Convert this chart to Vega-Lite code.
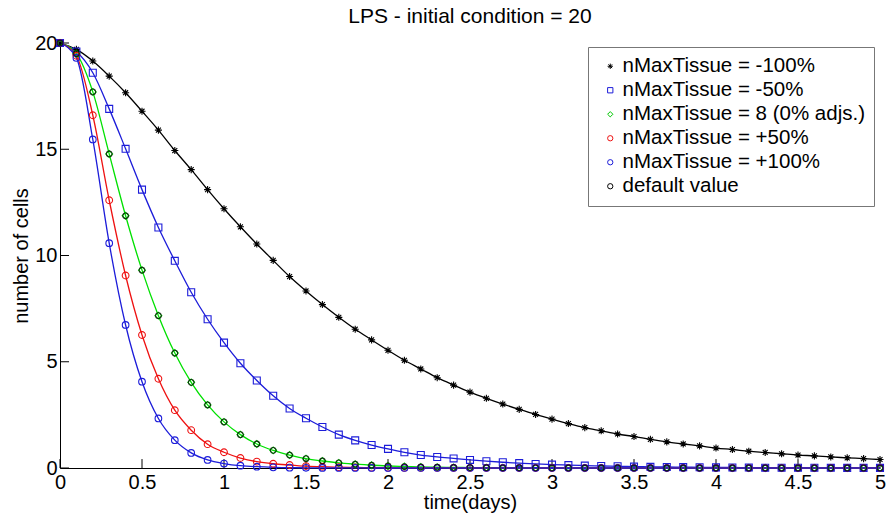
{
  "$schema": "https://vega.github.io/schema/vega-lite/v6.json",
  "width": 820,
  "height": 425,
  "autosize": {"type": "none"},
  "padding": {"left": 60, "top": 43, "right": 8, "bottom": 48},
  "background": "white",
  "config": {
    "font": "Liberation Sans",
    "view": {"stroke": null},
    "axis": {
      "grid": false,
      "domainColor": "black",
      "domainWidth": 1,
      "ticks": false,
      "labelColor": "black",
      "labelFontSize": 20,
      "titleColor": "black",
      "titleFontSize": 20,
      "titleFontWeight": "normal"
    }
  },
  "title": {
    "text": "LPS - initial condition = 20",
    "fontSize": 21,
    "fontWeight": "normal",
    "color": "black",
    "offset": 6
  },
  "data": {
    "values": [
      {"t": 0.0, "m100": 20, "m50": 20, "base": 20, "p50": 20, "p100": 20},
      {"t": 0.1, "m100": 19.7, "m50": 19.6, "base": 19.5, "p50": 19.4, "p100": 19.3},
      {"t": 0.2, "m100": 19.15, "m50": 18.6, "base": 17.7, "p50": 16.6, "p100": 15.46},
      {"t": 0.3, "m100": 18.44, "m50": 16.9, "base": 14.78, "p50": 12.6, "p100": 10.58},
      {"t": 0.4, "m100": 17.66, "m50": 15.02, "base": 11.87, "p50": 9.06, "p100": 6.73},
      {"t": 0.5, "m100": 16.79, "m50": 13.1, "base": 9.31, "p50": 6.26, "p100": 4.06},
      {"t": 0.6, "m100": 15.9, "m50": 11.32, "base": 7.17, "p50": 4.2, "p100": 2.33},
      {"t": 0.7, "m100": 14.94, "m50": 9.75, "base": 5.41, "p50": 2.72, "p100": 1.31},
      {"t": 0.8, "m100": 14.04, "m50": 8.27, "base": 4.03, "p50": 1.78, "p100": 0.71},
      {"t": 0.9, "m100": 13.1, "m50": 7.0, "base": 2.97, "p50": 1.12, "p100": 0.38},
      {"t": 1.0, "m100": 12.2, "m50": 5.9, "base": 2.17, "p50": 0.74, "p100": 0.21},
      {"t": 1.1, "m100": 11.35, "m50": 4.93, "base": 1.57, "p50": 0.47, "p100": 0.11},
      {"t": 1.2, "m100": 10.54, "m50": 4.12, "base": 1.13, "p50": 0.3, "p100": 0.06},
      {"t": 1.3, "m100": 9.77, "m50": 3.4, "base": 0.83, "p50": 0.2, "p100": 0.03},
      {"t": 1.4, "m100": 9.01, "m50": 2.8, "base": 0.61, "p50": 0.14, "p100": 0.017},
      {"t": 1.5, "m100": 8.33, "m50": 2.34, "base": 0.44, "p50": 0.09, "p100": 0.009},
      {"t": 1.6, "m100": 7.69, "m50": 1.93, "base": 0.33, "p50": 0.06, "p100": 0.005},
      {"t": 1.7, "m100": 7.09, "m50": 1.57, "base": 0.24, "p50": 0.04, "p100": 0.003},
      {"t": 1.8, "m100": 6.53, "m50": 1.3, "base": 0.18, "p50": 0.026, "p100": 0.002},
      {"t": 1.9, "m100": 6.03, "m50": 1.08, "base": 0.13, "p50": 0.017, "p100": 0.001},
      {"t": 2.0, "m100": 5.54, "m50": 0.9, "base": 0.095, "p50": 0.011, "p100": 0.001},
      {"t": 2.1, "m100": 5.07, "m50": 0.74, "base": 0.07, "p50": 0.007, "p100": 0},
      {"t": 2.2, "m100": 4.66, "m50": 0.61, "base": 0.05, "p50": 0.005, "p100": 0},
      {"t": 2.3, "m100": 4.25, "m50": 0.52, "base": 0.037, "p50": 0.003, "p100": 0},
      {"t": 2.4, "m100": 3.9, "m50": 0.45, "base": 0.027, "p50": 0.002, "p100": 0},
      {"t": 2.5, "m100": 3.57, "m50": 0.38, "base": 0.02, "p50": 0.001, "p100": 0},
      {"t": 2.6, "m100": 3.28, "m50": 0.32, "base": 0.014, "p50": 0.001, "p100": 0},
      {"t": 2.7, "m100": 3.01, "m50": 0.27, "base": 0.01, "p50": 0, "p100": 0},
      {"t": 2.8, "m100": 2.76, "m50": 0.23, "base": 0.008, "p50": 0, "p100": 0},
      {"t": 2.9, "m100": 2.52, "m50": 0.19, "base": 0.006, "p50": 0, "p100": 0},
      {"t": 3.0, "m100": 2.3, "m50": 0.16, "base": 0.004, "p50": 0, "p100": 0},
      {"t": 3.1, "m100": 2.09, "m50": 0.135, "base": 0.003, "p50": 0, "p100": 0},
      {"t": 3.2, "m100": 1.9, "m50": 0.113, "base": 0.002, "p50": 0, "p100": 0},
      {"t": 3.3, "m100": 1.75, "m50": 0.095, "base": 0.002, "p50": 0, "p100": 0},
      {"t": 3.4, "m100": 1.6, "m50": 0.08, "base": 0.001, "p50": 0, "p100": 0},
      {"t": 3.5, "m100": 1.48, "m50": 0.067, "base": 0.001, "p50": 0, "p100": 0},
      {"t": 3.6, "m100": 1.35, "m50": 0.056, "base": 0.001, "p50": 0, "p100": 0},
      {"t": 3.7, "m100": 1.23, "m50": 0.047, "base": 0, "p50": 0, "p100": 0},
      {"t": 3.8, "m100": 1.13, "m50": 0.04, "base": 0, "p50": 0, "p100": 0},
      {"t": 3.9, "m100": 1.04, "m50": 0.033, "base": 0, "p50": 0, "p100": 0},
      {"t": 4.0, "m100": 0.94, "m50": 0.028, "base": 0, "p50": 0, "p100": 0},
      {"t": 4.1, "m100": 0.87, "m50": 0.023, "base": 0, "p50": 0, "p100": 0},
      {"t": 4.2, "m100": 0.79, "m50": 0.02, "base": 0, "p50": 0, "p100": 0},
      {"t": 4.3, "m100": 0.73, "m50": 0.016, "base": 0, "p50": 0, "p100": 0},
      {"t": 4.4, "m100": 0.67, "m50": 0.014, "base": 0, "p50": 0, "p100": 0},
      {"t": 4.5, "m100": 0.61, "m50": 0.012, "base": 0, "p50": 0, "p100": 0},
      {"t": 4.6, "m100": 0.57, "m50": 0.01, "base": 0, "p50": 0, "p100": 0},
      {"t": 4.7, "m100": 0.52, "m50": 0.008, "base": 0, "p50": 0, "p100": 0},
      {"t": 4.8, "m100": 0.48, "m50": 0.007, "base": 0, "p50": 0, "p100": 0},
      {"t": 4.9, "m100": 0.44, "m50": 0.006, "base": 0, "p50": 0, "p100": 0},
      {"t": 5.0, "m100": 0.4, "m50": 0.005, "base": 0, "p50": 0, "p100": 0}
    ]
  },
  "layer": [
    {
      "data": {"values": [{"v": 0}, {"v": 0.5}, {"v": 1}, {"v": 1.5}, {"v": 2}, {"v": 2.5}, {"v": 3}, {"v": 3.5}, {"v": 4}, {"v": 4.5}, {"v": 5}]},
      "mark": {"type": "rule", "color": "black", "strokeWidth": 1},
      "encoding": {
        "x": {"field": "v", "type": "quantitative"},
        "y": {"datum": 0},
        "y2": {"datum": 0.42}
      }
    },
    {
      "data": {"values": [{"v": 0}, {"v": 5}, {"v": 10}, {"v": 15}, {"v": 20}]},
      "mark": {"type": "rule", "color": "black", "strokeWidth": 1},
      "encoding": {
        "y": {"field": "v", "type": "quantitative"},
        "x": {"datum": 0},
        "x2": {"datum": 0.055}
      }
    },
    {
      "transform": [
        {"fold": ["m100", "m50", "base", "p50", "p100"], "as": ["key", "value"]}
      ],
      "mark": {"type": "line", "interpolate": "monotone", "strokeWidth": 1.3},
      "encoding": {
        "x": {
          "field": "t",
          "type": "quantitative",
          "scale": {"domain": [0, 5], "nice": false, "zero": false},
          "axis": {
            "title": "time(days)",
            "values": [0, 0.5, 1, 1.5, 2, 2.5, 3, 3.5, 4, 4.5, 5],
            "format": "~g",
            "labelPadding": 4,
            "labelFlush": false,
            "titlePadding": 0
          }
        },
        "y": {
          "field": "value",
          "type": "quantitative",
          "scale": {"domain": [0, 20], "nice": false},
          "axis": {
            "title": "number of cells",
            "values": [0, 5, 10, 15, 20],
            "labelPadding": 3,
            "titlePadding": 3
          }
        },
        "stroke": {
          "field": "key",
          "type": "nominal",
          "scale": {
            "domain": ["m100", "m50", "base", "p50", "p100"],
            "range": ["#000000", "#1c1cd9", "#00e000", "#ee1111", "#1c1cd9"]
          },
          "legend": null
        }
      }
    },
    {
      "transform": [
        {"fold": ["m100", "m50", "base", "p50", "p100"], "as": ["key", "value"]}
      ],
      "mark": {"type": "point", "filled": false, "strokeWidth": 1.1, "opacity": 1},
      "encoding": {
        "x": {"field": "t", "type": "quantitative"},
        "y": {"field": "value", "type": "quantitative"},
        "color": {
          "field": "key",
          "type": "nominal",
          "scale": {
            "domain": ["m100", "m50", "base", "p50", "p100", "def"],
            "range": ["#000000", "#1c1cd9", "#00c800", "#ee1111", "#1c1cd9", "#000000"]
          },
          "legend": {
            "title": null,
            "orient": "none",
            "legendX": 528,
            "legendY": 4,
            "padding": 9,
            "symbolOffset": 3,
            "labelFontSize": 20.5,
            "labelColor": "black",
            "labelOffset": 2,
            "labelLimit": 400,
            "rowPadding": 3,
            "symbolSize": 28,
            "symbolStrokeWidth": 1,
            "strokeColor": "#777777",
            "fillColor": "white",
            "labelExpr": "datum.label == 'm100' ? 'nMaxTissue = -100%' : datum.label == 'm50' ? 'nMaxTissue = -50%' : datum.label == 'base' ? 'nMaxTissue = 8 (0% adjs.)' : datum.label == 'p50' ? 'nMaxTissue = +50%' : datum.label == 'p100' ? 'nMaxTissue = +100%' : 'default value'"
          }
        },
        "shape": {
          "field": "key",
          "type": "nominal",
          "scale": {
            "domain": ["m100", "m50", "base", "p50", "p100", "def"],
            "range": ["M0,-1L0,1M-1,0L1,0M-0.7,-0.7L0.7,0.7M-0.7,0.7L0.7,-0.7", "square", "diamond", "circle", "circle", "circle"]
          }
        },
        "size": {
          "field": "key",
          "type": "nominal",
          "scale": {
            "domain": ["m100", "m50", "base", "p50", "p100"],
            "range": [50, 44, 12, 30, 30]
          },
          "legend": null
        }
      }
    },
    {
      "mark": {"type": "point", "shape": "circle", "filled": false, "color": "#000000", "size": 32, "strokeWidth": 1.1},
      "encoding": {
        "x": {"field": "t", "type": "quantitative"},
        "y": {"field": "base", "type": "quantitative"}
      }
    }
  ]
}
